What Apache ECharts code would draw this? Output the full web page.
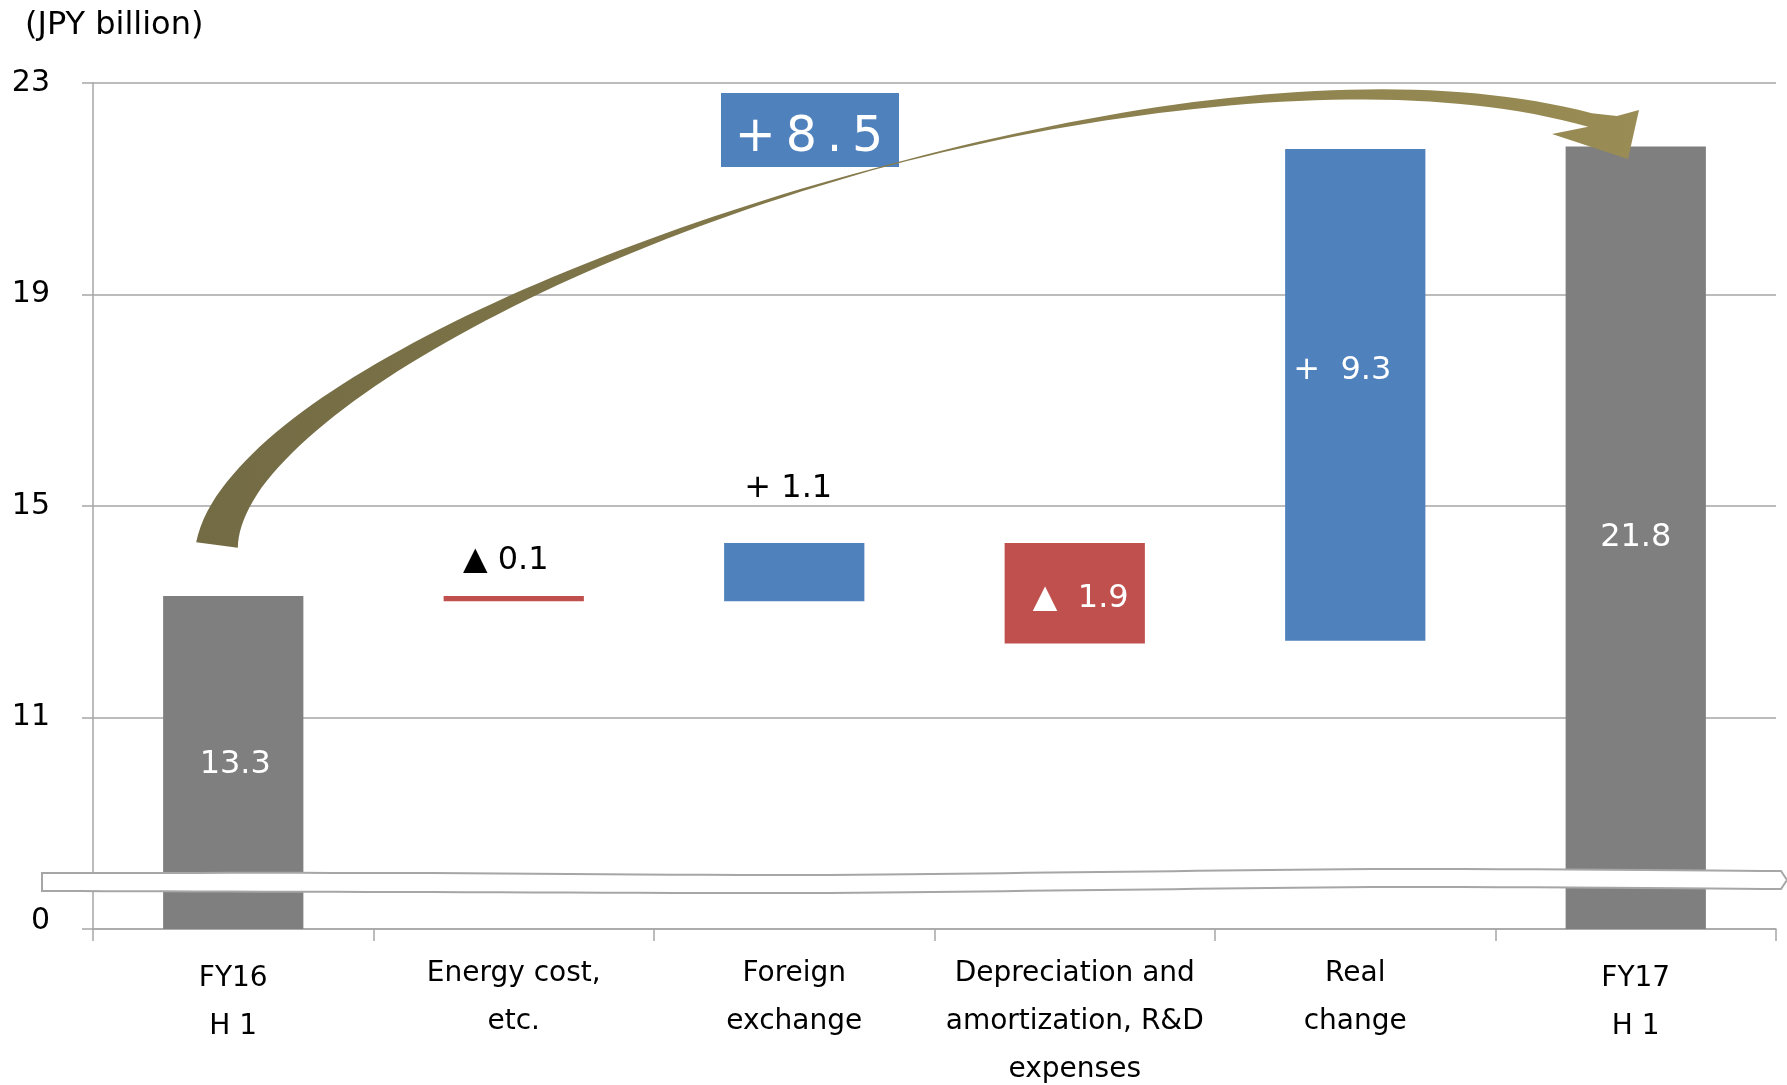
<!DOCTYPE html>
<html>
<head>
<meta charset="utf-8">
<script src="https://cdn.jsdelivr.net/npm/echarts@6/dist/echarts.min.js"></script>
<style>
html,body{margin:0;padding:0;background:#fff;}
#chart{width:1787px;height:1085px;}
</style>
</head>
<body>
<div id="chart"></div>
<script>
// ---- data ----
const categories = ['FY16\nH 1', 'Energy cost,\netc.', 'Foreign\nexchange', 'Depreciation and\namortization, R&D\nexpenses', 'Real\nchange', 'FY17\nH 1'];
const barStart = [0, 13.3, 13.2, 14.3, 12.45, 0];
const barChange = [13.3, -0.1, 1.1, -1.9, 9.3, 21.8];
const isTotal = [true, false, false, false, false, true];
const totalChange = [8.5];
const yMin = 7, yMax = 23, yStep = 4;
const yTickLabels = ['0', '11', '15', '19', '23'];

// ---- styles ----
const FONT = '"DejaVu Sans", Verdana, sans-serif';
const C_GRAY = '#7f7f7f', C_BLUE = '#4f81bd', C_RED = '#c0504d', C_GRID = '#a6a6a6';
const labelCfg = [
  {pos: 'inside', dx: 2, dy: 2, color: '#fff', gap: ''},
  {pos: 'above', dx: -8, dy: -35, color: '#000', gap: ' '},
  {pos: 'above', dx: -6, dy: -54, color: '#000', gap: ' '},
  {pos: 'inside', dx: 6, dy: 5, color: '#fff', gap: '  '},
  {pos: 'inside', dx: -13, dy: -24, color: '#fff', gap: '  '},
  {pos: 'inside', dx: 0, dy: 0, color: '#fff', gap: ''}
];

function labelText(i) {
  const v = barChange[i];
  if (isTotal[i]) return v.toFixed(1);
  return (v < 0 ? '\u25B2' : '+') + labelCfg[i].gap + Math.abs(v).toFixed(1);
}

const seriesData = categories.map((c, i) => [i, barStart[i], barStart[i] + barChange[i]]);

const chart = echarts.init(document.getElementById('chart'), null, {renderer: 'canvas'});

function renderItem(params, api) {
  const i = api.value(0);
  const a = api.value(1), b = api.value(2);
  const lo = Math.max(Math.min(a, b), yMin);
  const hi = Math.max(a, b);
  const pTop = api.coord([i, hi]);
  const pBot = api.coord([i, lo]);
  const w = api.size([1, 0])[0] * 0.5;
  const color = isTotal[i] ? C_GRAY : (barChange[i] < 0 ? C_RED : C_BLUE);
  const cfg = labelCfg[i];
  let ty;
  if (cfg.pos === 'inside') ty = (pTop[1] + pBot[1]) / 2 + cfg.dy;
  else ty = pTop[1] + cfg.dy;
  return {
    type: 'group',
    children: [
      {type: 'rect', shape: {x: pTop[0] - w / 2, y: pTop[1], width: w, height: pBot[1] - pTop[1]}, style: {fill: color}},
      {type: 'text', z2: 5, style: {text: labelText(i), x: pTop[0] + cfg.dx, y: ty, fill: cfg.color,
        fontSize: 32, fontFamily: FONT, align: 'center', verticalAlign: 'middle'}}
    ]
  };
}

// ---- decorative curved arrow (centre line + width profile) ----
const AP = [[217,545],[245,330],[1150,0],[1590,120]];
const AW = [[0,42],[0.1,30],[0.25,18],[0.4,8],[0.5,3.5],[0.58,1.2],[0.66,3],[0.75,7],[0.88,11],[1,14]];
function widthAt(t) {
  for (let k = 0; k < AW.length - 1; k++) {
    if (t <= AW[k + 1][0]) {
      const f = (t - AW[k][0]) / (AW[k + 1][0] - AW[k][0]);
      return AW[k][1] + f * (AW[k + 1][1] - AW[k][1]);
    }
  }
  return AW[AW.length - 1][1];
}
function bez(t) {
  const u = 1 - t;
  const b = [u*u*u, 3*u*u*t, 3*u*t*t, t*t*t];
  const d = [-3*u*u, 3*u*u - 6*u*t, 6*u*t - 3*t*t, 3*t*t];
  let x = 0, y = 0, dx = 0, dy = 0;
  for (let k = 0; k < 4; k++) {
    x += b[k] * AP[k][0]; y += b[k] * AP[k][1];
    dx += d[k] * AP[k][0]; dy += d[k] * AP[k][1];
  }
  const L = Math.hypot(dx, dy);
  return {x, y, nx: dy / L, ny: -dx / L};
}
const outer = [], inner = [];
for (let s = 0; s <= 100; s++) {
  const t = s / 100, p = bez(t), hw = widthAt(t) / 2;
  outer.push([p.x + p.nx * hw, p.y + p.ny * hw]);
  inner.push([p.x - p.nx * hw, p.y - p.ny * hw]);
}
const arrowPoly = outer.concat([[1617,116],[1639,110],[1628,159],[1552,134]], inner.reverse());

// ---- decorative axis-break band ----
function crSample(pts) {
  const out = [pts[0].slice()];
  for (let i = 0; i < pts.length - 1; i++) {
    const p0 = pts[i - 1] || pts[i], p1 = pts[i], p2 = pts[i + 1], p3 = pts[i + 2] || pts[i + 1];
    const c1 = [p1[0] + (p2[0] - p0[0]) / 6, p1[1] + (p2[1] - p0[1]) / 6];
    const c2 = [p2[0] - (p3[0] - p1[0]) / 6, p2[1] - (p3[1] - p1[1]) / 6];
    for (let s = 1; s <= 12; s++) {
      const t = s / 12, u = 1 - t;
      out.push([
        u*u*u*p1[0] + 3*u*u*t*c1[0] + 3*u*t*t*c2[0] + t*t*t*p2[0],
        u*u*u*p1[1] + 3*u*u*t*c1[1] + 3*u*t*t*c2[1] + t*t*t*p2[1]
      ]);
    }
  }
  return out;
}
const bandTop = [[42,873],[400,873],[800,875],[1100,872],[1400,869],[1781,871]];
const bandBottom = [[1781,889],[1400,887],[1100,890],[800,893],[400,892],[42,891]];
const bandPoly = crSample(bandTop).concat([[1787,880]], crSample(bandBottom));

const option = {
  backgroundColor: '#fff',
  animation: false,
  title: {
    text: '(JPY billion)', left: 25, top: 8, padding: 0,
    textStyle: {fontSize: 32, fontWeight: 'normal', color: '#000', fontFamily: FONT, lineHeight: 36}
  },
  grid: {left: 93, right: 11, top: 83, bottom: 156, containLabel: false, outerBoundsMode: 'none'},
  xAxis: {
    type: 'category',
    data: categories.map((c, i) => isTotal[i] ? {value: c, textStyle: {padding: [5, 0, 0, 0]}} : c),
    axisLine: {lineStyle: {color: C_GRID, width: 1.5}},
    axisTick: {show: true, length: 12, lineStyle: {color: C_GRID, width: 1.5}},
    axisLabel: {interval: 0, fontSize: 28, lineHeight: 48, margin: 21, color: '#000', fontFamily: FONT},
    splitLine: {show: false}
  },
  yAxis: {
    type: 'value', min: yMin, max: yMax, interval: yStep,
    axisLine: {show: true, lineStyle: {color: C_GRID, width: 1.5}},
    axisTick: {show: true, length: 11, lineStyle: {color: C_GRID, width: 1.5}},
    axisLabel: {
      fontSize: 30, margin: 43, color: '#000', fontFamily: FONT,
      formatter: function (v) {
        const k = Math.round((v - yMin) / yStep);
        return k === 0 ? '{z|' + yTickLabels[k] + '}' : yTickLabels[k];
      },
      rich: {z: {fontSize: 30, fontFamily: FONT, color: '#000', padding: [0, 0, 16, 0]}}
    },
    splitLine: {show: true, lineStyle: {color: C_GRID, width: 1.5}}
  },
  series: [{
    type: 'custom',
    renderItem: renderItem,
    clip: true,
    encode: {x: 0, y: [1, 2]},
    data: seriesData
  }],
  graphic: [
    {type: 'polygon', z: 10, shape: {points: arrowPoly},
      style: {fill: {type: 'linear', x: 0, y: 0, x2: 1, y2: 0, colorStops: [
        {offset: 0, color: '#736b44'}, {offset: 1, color: '#998c54'}]}}},
    {type: 'group', z: 11, children: [
      {type: 'rect', shape: {x: 721, y: 93, width: 178, height: 74}, style: {fill: C_BLUE}},
      {type: 'text', style: {text: '+\u2009' + totalChange[0].toFixed(1).split('').join('\u2009'),
        x: 809, y: 138, fill: '#fff', fontSize: 49, fontFamily: FONT, align: 'center', verticalAlign: 'middle'}}
    ]},
    {type: 'polygon', z: 20, shape: {points: bandPoly}, style: {fill: '#fff', stroke: C_GRID, lineWidth: 2}}
  ]
};
chart.setOption(option);
</script>
</body>
</html>
